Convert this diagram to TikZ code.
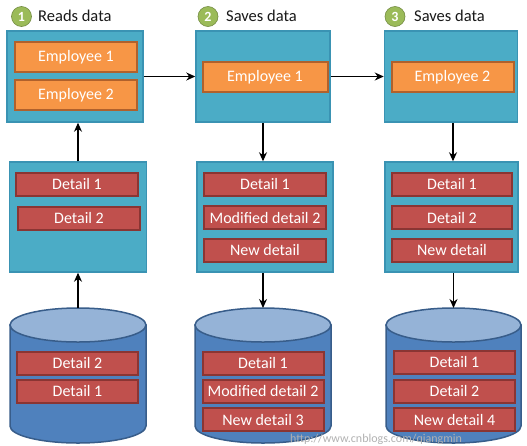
\documentclass[tikz,border=0pt]{standalone}
\usepackage{fontspec}
\setmainfont{Carlito}
\usetikzlibrary{arrows.meta}
\definecolor{teal}{HTML}{4BACC6}
\definecolor{tealb}{HTML}{3A93B3}
\definecolor{org}{HTML}{F79646}
\definecolor{orgb}{HTML}{B0612C}
\definecolor{rd}{HTML}{C0504D}
\definecolor{rdb}{HTML}{8A3533}
\definecolor{cyl}{HTML}{4F81BD}
\definecolor{cylb}{HTML}{385D8A}
\definecolor{cyltop}{HTML}{95B3D7}
\definecolor{grn}{HTML}{9BBB59}
\tikzset{
  x=1pt,y=-1pt,
  panel/.style={draw=tealb,line width=1.5pt,fill=teal,inner sep=0pt},
  emp/.style={draw=orgb,line width=2pt,fill=org,text=white,inner sep=0pt,minimum height=30,
    font=\fontsize{16}{18}\selectfont},
  det/.style={draw=rdb,line width=2pt,fill=rd,text=white,inner sep=0pt,minimum height=23,
    font=\fontsize{16}{18}\selectfont},
  badge/.style={circle,fill=grn,draw=grn!75!black,line width=0.6pt,text=white,inner sep=0pt,minimum size=20,
    font=\bfseries\fontsize{14}{15}\selectfont},
  ttl/.style={anchor=west,text=black!90,inner sep=0pt,font=\fontsize{16.5}{18}\selectfont},
  arr/.style={line width=1.2pt,-{Stealth[length=9pt,width=8pt]}},
  cylbody/.style={fill=cyl,draw=cylb,line width=1.5pt},
  cyltopst/.style={fill=cyltop,draw=cylb,line width=1.5pt}
}
\newcommand{\mycyl}[3]{% left, right, name
  \path[cylbody] (#1,325) -- (#1,426) arc[start angle=180,end angle=360,x radius={(#2-#1)/2},y radius=-17] -- (#2,325) -- cycle;
  \path[cyltopst] ({(#1+#2)/2},325) ellipse[x radius={(#2-#1)/2},y radius=17];
  \coordinate (#3) at ({(#1+#2)/2},308);
}
\begin{document}
\begin{tikzpicture}
\useasboundingbox[fill=white] (0,0) rectangle (527,445);
% titles
\node[badge] (b1) at (21.5,16.5) {1};
\node[ttl] (t1) at (38,16) {Reads data};
\node[badge] (b2) at (208,16.5) {2};
\node[ttl] (t2) at (226,16) {Saves data};
\node[badge] (b3) at (395,16.5) {3};
\node[ttl] (t3) at (414,16) {Saves data};
% top panels
\node[panel,minimum width=136,minimum height=91] (p1) at (75,76.5) {};
\node[emp,minimum width=122] (e11) at (76,57) {Employee 1};
\node[emp,minimum width=122] (e12) at (76,95) {Employee 2};
\node[panel,minimum width=134,minimum height=91] (p2) at (263,76.5) {};
\node[emp,minimum width=125] (e21) at (265,77) {Employee 1};
\node[panel,minimum width=133,minimum height=91] (p3) at (451,76.5) {};
\node[emp,minimum width=122] (e31) at (452.5,77) {Employee 2};
% middle panels
\node[panel,minimum width=137,minimum height=110] (m1) at (78,217) {};
\node[det,minimum width=122] (d11) at (77,184) {Detail 1};
\node[det,minimum width=122] (d12) at (79,218) {Detail 2};
\node[panel,minimum width=136,minimum height=110] (m2) at (265,217) {};
\node[det,minimum width=122] (d21) at (265,184) {Detail 1};
\node[det,minimum width=122] (d22) at (265,217.5) {Modified detail 2};
\node[det,minimum width=122] (d23) at (265,250) {New detail};
\node[panel,minimum width=133,minimum height=110] (m3) at (451.5,217) {};
\node[det,minimum width=120] (d31) at (452,184) {Detail 1};
\node[det,minimum width=120] (d32) at (452,217.5) {Detail 2};
\node[det,minimum width=120] (d33) at (452,250) {New detail};
% cylinders
\mycyl{10}{146}{c1}
\mycyl{195}{331}{c2}
\mycyl{386}{521}{c3}
\node[det,minimum width=121] (s11) at (77.5,363) {Detail 2};
\node[det,minimum width=121] (s12) at (77.5,391) {Detail 1};
\node[det,minimum width=121] (s21) at (263,363) {Detail 1};
\node[det,minimum width=121] (s22) at (263,391) {Modified detail 2};
\node[det,minimum width=121] (s23) at (263,419.5) {New detail 3};
\node[det,minimum width=121] (s31) at (454.5,362) {Detail 1};
\node[det,minimum width=121] (s32) at (454.5,391) {Detail 2};
\node[det,minimum width=121] (s33) at (454.5,419.5) {New detail 4};
% arrows
\draw[arr] (p1.east) -- (p2.west);
\draw[arr] (p2.east) -- (p3.west);
\draw[arr] (m1.north -| 78,0) -- (p1.south -| 78,0);
\draw[arr] (c1) -- (m1.south -| c1);
\draw[arr] (p2.south -| 263,0) -- (m2.north -| 263,0);
\draw[arr] (m2.south -| c2) -- (c2);
\draw[arr] (p3.south -| 453,0) -- (m3.north -| 453,0);
\draw[arr] (m3.south -| c3) -- (c3);
% watermark
\node[anchor=base west,inner sep=0pt,text=black!30,font=\fontsize{12}{13}\selectfont] (wm) at (290,442) {http://www.cnblogs.com/qiangmin};
\end{tikzpicture}
\end{document}
